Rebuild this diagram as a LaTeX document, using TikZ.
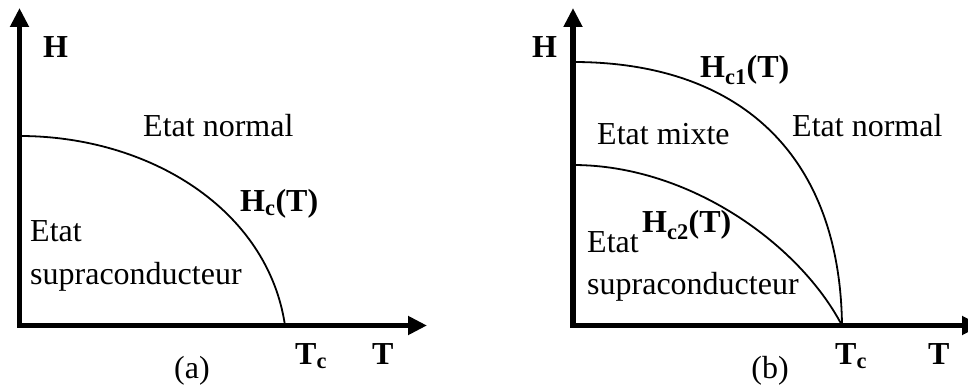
\documentclass[tikz,border=0pt]{standalone}
\usepackage{fontspec}
\setmainfont{Liberation Serif}
\usetikzlibrary{arrows.meta}
\tikzset{
	axis/.style={line width=5.5pt, line join=miter, {Triangle[length=19pt,width=18pt]}-{Triangle[length=19pt,width=18pt]}},
	crit/.style={line width=1.8pt},
	lbl/.style={inner sep=0pt, anchor=base west},
	blbl/.style={lbl, font=\fontsize{32}{38}\selectfont\bfseries},
}
\begin{document}
\begin{tikzpicture}[x=1pt, y=1pt, font=\fontsize{32}{38}\selectfont]
	\useasboundingbox (0,0) rectangle (968,385);
	% (a) type I
	\coordinate (oa) at (19.5,59.5);
	\coordinate (ya) at (19.5,377);
	\coordinate (xa) at (427,59.5);
	\coordinate (hca) at (19.5,249);
	\coordinate (tca) at (285,59.5);
	\draw[axis] (ya) -- (oa) -- (xa);
	\draw[crit] (hca) .. controls (150,249) and (268,175) .. (tca);
	\node[blbl] (Ha) at (43,327) {H};
	\node[lbl] (norma) at (143,248) {Etat normal};
	\node[blbl] (hcta) at (240,173) {H\textsubscript{c}(T)};
	\node[lbl] (etata) at (30,143) {Etat};
	\node[lbl] (supra) at (30,100) {supraconducteur};
	\node[blbl] (Tca) at (295,20) {T\textsubscript{c}};
	\node[blbl] (Ta) at (372,20) {T};
	\node[inner sep=0pt, anchor=base] (capa) at (192,6) {(a)};
	% (b) type II
	\coordinate (ob) at (573,59.5);
	\coordinate (yb) at (573,377);
	\coordinate (xb) at (981,59.5);
	\coordinate (hc1) at (573,323);
	\coordinate (hc2) at (573,220);
	\coordinate (tcb) at (842,59.5);
	\draw[axis] (yb) -- (ob) -- (xb);
	\draw[crit] (hc1) .. controls (740,323) and (840,230) .. (tcb);
	\draw[crit] (hc2) .. controls (690,220) and (800,140) .. (tcb);
	\node[blbl] (Hb) at (532,327) {H};
	\node[blbl] (hc1t) at (700,307) {H\textsubscript{c1}(T)};
	\node[lbl] (mixte) at (597,240) {Etat mixte};
	\node[lbl] (normb) at (792,248) {Etat normal};
	\node[blbl] (hc2t) at (642,152) {H\textsubscript{c2}(T)};
	\node[lbl] (etatb) at (587,132) {Etat};
	\node[lbl] (suprb) at (587,90) {supraconducteur};
	\node[blbl] (Tcb) at (835,20) {T\textsubscript{c}};
	\node[blbl] (Tb) at (928,20) {T};
	\node[inner sep=0pt, anchor=base] (capb) at (770,6) {(b)};
\end{tikzpicture}
\end{document}
